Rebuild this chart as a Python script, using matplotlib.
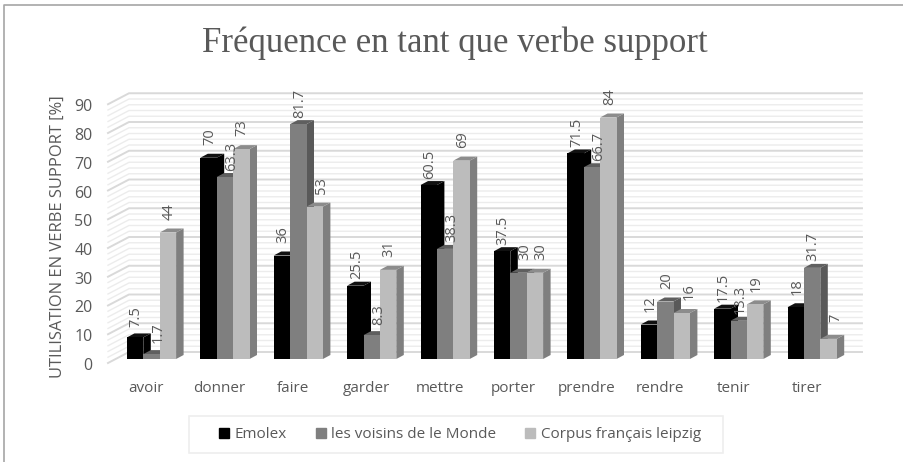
import matplotlib
matplotlib.use("Agg")
import matplotlib.pyplot as plt
from matplotlib.patches import Patch

plt.rcParams['font.family'] = ['Open Sans', 'DejaVu Sans']

# Daten
verbes = ['avoir', 'donner', 'faire', 'garder', 'mettre', 'porter', 'prendre', 'rendre', 'tenir', 'tirer']
emolex = [7.5, 70, 36, 25.5, 60.5, 37.5, 71.5, 12, 17.5, 18]
voisins = [1.7, 63.3, 81.7, 8.3, 38.3, 30, 66.7, 20, 13.3, 31.7]
leipzig = [44, 73, 53, 31, 69, 30, 84, 16, 19, 7]
series = ['Emolex', 'les voisins de le Monde', 'Corpus français leipzig']
y_ticks = [0, 10, 20, 30, 40, 50, 60, 70, 80, 90]

couleurs = ['#000000', '#7f7f7f', '#bcbcbc']
cotes = ['#000000', '#595959', '#7f7f7f']
dessus = ['#111111', '#5f5f5f', '#8c8c8c']
gris_texte = '#595959'

W, H = 904, 462
fig = plt.figure(figsize=(W / 100, H / 100), dpi=100)
ax = fig.add_axes([0, 0, 1, 1])

# echelle : 73.4 px par categorie, 2.875 px par %
px_x = 73.4
px_y = 2.875
ax.set_xlim(-151.5 / px_x, (W - 151.5) / px_x)
ax.set_ylim(-(H - 359) / px_y, 359 / px_y)
ax.axis('off')

largeur = 16.4 / px_x
dx = 7.5 / px_x
dy = 4 / px_y

# bord gauche de la grille et mur du fond
fx0, fy0 = (108 - 151.5) / px_x, -4 / px_y
bx0, by0 = (129 - 151.5) / px_x, 7 / px_y
bx1 = (862 - 151.5) / px_x

# grille (mineure tous les 2, majeure tous les 10)
for v in range(0, 91, 2):
    majeur = v % 10 == 0
    c = '#d9d9d9' if majeur else '#ececec'
    lw = 1.4 if majeur else 1.0
    ax.plot([fx0, bx0, bx1], [v + fy0, v + by0, v + by0], color=c, lw=lw, zorder=1)

# etiquettes trop serrees : decalage a la main (px)
decalages = {(5, 1): 6, (5, 2): 6, (8, 1): 1}

for i, verbe in enumerate(verbes):
    valeurs = [emolex[i], voisins[i], leipzig[i]]
    # gauche a droite : la face de la barre suivante cache le cote
    for j in range(3):
        v = valeurs[j]
        x = i + (j - 1) * largeur
        g, d = x - largeur / 2, x + largeur / 2
        z = 3 + j
        ax.fill([d, d + dx, d + dx, d], [0, dy, v + dy, v], color=cotes[j], lw=0, zorder=z)
        ax.fill([g, g + dx, d + dx, d], [v, v + dy, v + dy, v], color=dessus[j], lw=0, zorder=z)
        ax.bar(x, v, width=largeur, color=couleurs[j], lw=0, zorder=z + 0.5)
        # etiquette decalee si la barre de gauche est plus haute
        decale = 7 if j > 0 and valeurs[j - 1] > v else 1
        decale = decalages.get((i, j), decale)
        ax.text(x + decale / px_x, v + 21 / px_y, f'{v:g}', rotation=90, ha='center', va='center',
                fontsize=10.5, color=gris_texte, zorder=10)
    ax.text(i - 5.5 / px_x, -30 / px_y, verbe, ha='center', va='center', fontsize=11, color=gris_texte, zorder=10)

for v in y_ticks:
    ax.text(-59 / px_x, v - 7 / px_y, str(v), ha='right', va='center', fontsize=11.5, color=gris_texte)

ax.text(-93.5 / px_x, 45 - 6.5 / px_y, 'UTILISATION EN VERBE SUPPORT [%]', rotation=90, ha='center', va='center',
        fontsize=11.9, color=gris_texte)

fig.text(455 / W, 1 - 43 / H, 'Fréquence en tant que verbe support', ha='center', va='center',
         fontsize=25, color=gris_texte, family='Liberation Serif')

# legende : cadre dessine a part
fig.add_artist(plt.Rectangle((189 / W, 1 - 453 / H), 534 / W, 37 / H, fill=False, edgecolor='#eeeeee', lw=1.2,
                             transform=fig.transFigure))
handles = [Patch(color=c, label=s) for c, s in zip(couleurs, series)]
fig.legend(handles=handles, loc='center', bbox_to_anchor=(460 / W, 1 - 434.5 / H), ncol=3, frameon=False,
           fontsize=11, handlelength=0.65, handleheight=0.65, handletextpad=0.35, columnspacing=1.9,
           labelcolor=gris_texte)

# cadre exterieur (haut et gauche seulement)
fig.add_artist(plt.Line2D([4 / W, 4 / W, 1], [0, 1 - 5 / H, 1 - 5 / H], color='#a6a6a6', lw=1.2,
                          transform=fig.transFigure))

fig.savefig('out.png', dpi=100)
